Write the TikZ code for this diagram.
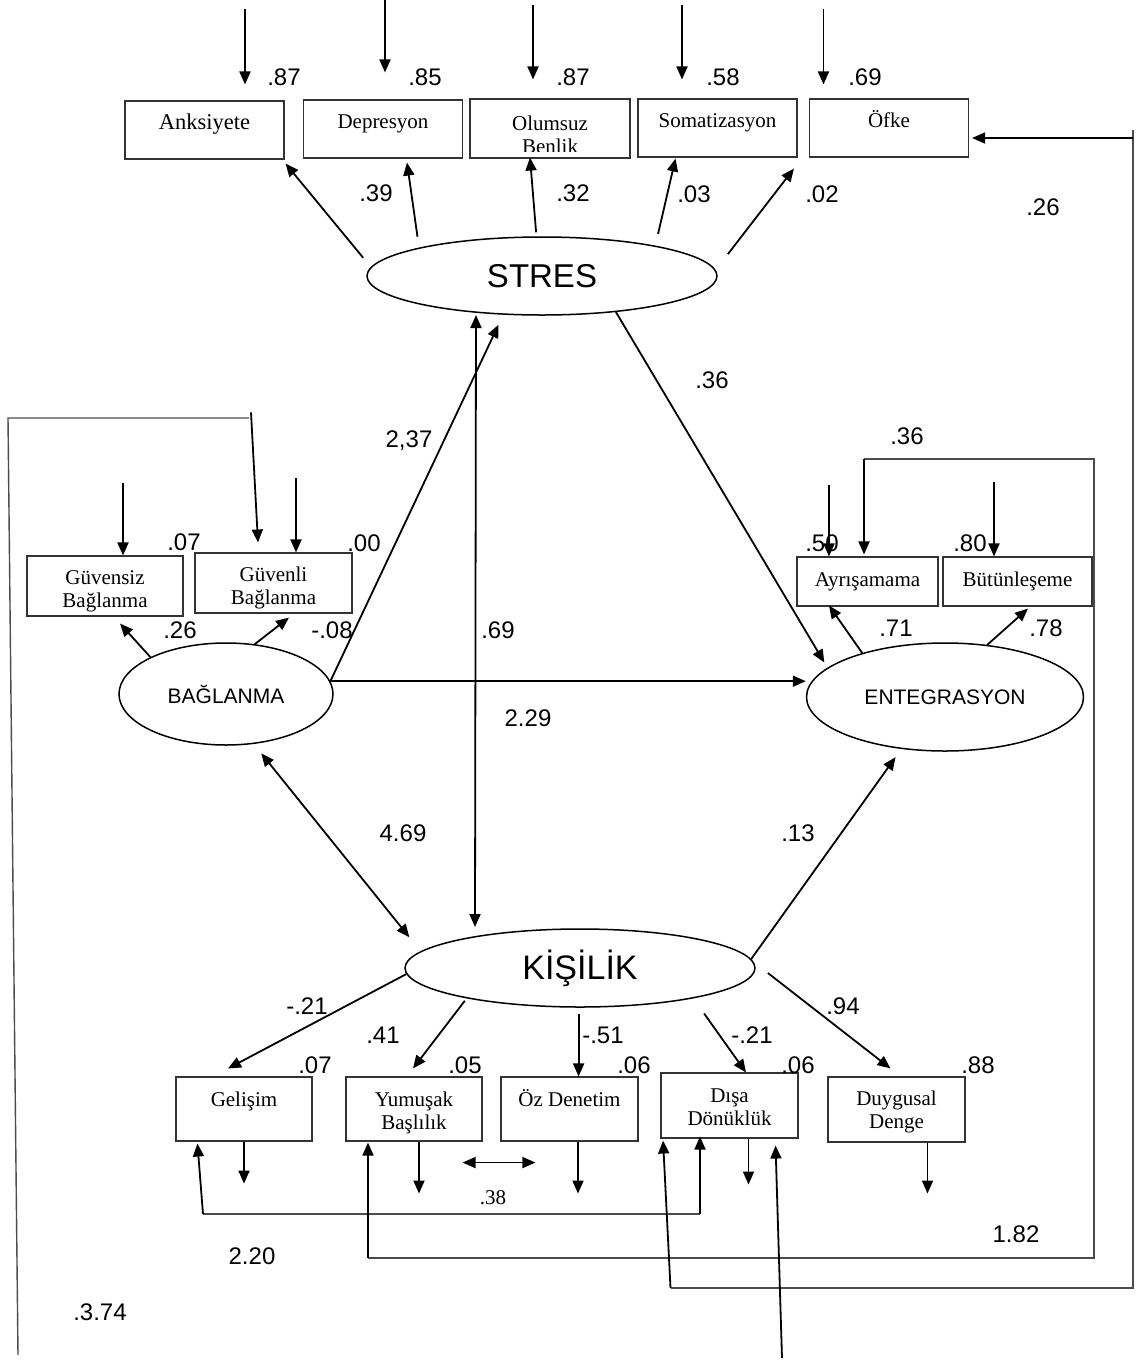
\documentclass[tikz,border=0pt]{standalone}
\usepackage{fontspec}
\setmainfont{Liberation Serif}
\newfontfamily\arialfont{Liberation Sans}
\usetikzlibrary{shapes.geometric,arrows.meta,calc}

\begin{document}
\begin{tikzpicture}[x=1pt, y=-1pt,
    latent/.style={ellipse, draw, line width=1.5pt, inner sep=0pt},
    obsbox/.style={rectangle, draw=black!80, line width=1.1pt, inner sep=0pt},
    boxtxt/.style={inner sep=0pt, font=\fontsize{21}{23}\selectfont, text height=15pt, text depth=5pt},
    boxtxtii/.style={inner sep=0pt, font=\fontsize{21}{23}\selectfont, align=center},
    coef/.style={inner sep=0pt, font=\arialfont\fontsize{24}{28}\selectfont},
    arr/.style={-{Triangle[length=13pt,width=11pt]}, line width=1.8pt},
    dblarr/.style={{Triangle[length=13pt,width=11pt]}-{Triangle[length=13pt,width=11pt]}, line width=1.8pt},
    route/.style={line width=1.4pt, draw=black!70}]

    \useasboundingbox (0,0) rectangle (1139,1361);

    % Latent variables
    \node[latent, minimum width=350pt, minimum height=78pt, font=\arialfont\fontsize{33}{36}\selectfont] (stres) at (542,276) {STRES};
    \node[latent, minimum width=214pt, minimum height=102pt, font=\arialfont\fontsize{21}{24}\selectfont] (bag) at (226,694) {BAĞLANMA};
    \node[latent, minimum width=277pt, minimum height=108pt, font=\arialfont\fontsize{21}{24}\selectfont] (ent) at (945,697) {ENTEGRASYON};
    \node[latent, minimum width=350pt, minimum height=78pt, font=\arialfont\fontsize{34}{38}\selectfont] (kis) at (580,968) {KİŞİLİK};

    % Indicators of STRES
    \node[obsbox, minimum width=159pt, minimum height=58pt,
          label={[boxtxt, font=\fontsize{22.5}{24}\selectfont, yshift=5.5pt]center:Anksiyete}] (anks) at (204.5,130) {};
    \foreach \nm/\cx/\cy/\txt in {depr/383/129/Depresyon, soma/717.5/128/Somatizasyon, ofke/889/128/Öfke}
        \node[obsbox, minimum width=159pt, minimum height=58pt,
              label={[boxtxt, yshift=5.5pt]center:\txt}] (\nm) at (\cx,\cy) {};
    \node[obsbox, minimum width=160pt, minimum height=59pt] (olum) at (550,128.5) {};
    \begin{scope}
        \clip (olum.north west) rectangle ($(olum.south east)+(0,-7)$);
        \node[boxtxtii] (olumtxt) at ($(olum.center)+(0,6)$) {Olumsuz\\Benlik};
    \end{scope}

    % Indicators of BAGLANMA and ENTEGRASYON
    \node[obsbox, minimum width=156pt, minimum height=60pt,
          label={[boxtxtii, yshift=-5pt]center:Güvensiz\\Bağlanma}] (gvs) at (105,586) {};
    \node[obsbox, minimum width=157pt, minimum height=60pt,
          label={[boxtxtii, yshift=-5pt]center:Güvenli\\Bağlanma}] (gvl) at (273.5,583) {};
    \node[obsbox, minimum width=141pt, minimum height=49pt,
          label={[boxtxt, yshift=0.5pt]center:Ayrışamama}] (ayr) at (867.5,581.5) {};
    \node[obsbox, minimum width=149pt, minimum height=49pt,
          label={[boxtxt, yshift=0.5pt]center:Bütünleşeme}] (but) at (1017.5,581.5) {};

    % Indicators of KISILIK
    \node[obsbox, minimum width=136pt, minimum height=64pt,
          label={[boxtxt, yshift=8pt]center:Gelişim}] (gel) at (244,1109) {};
    \node[obsbox, minimum width=136pt, minimum height=64pt,
          label={[boxtxtii, yshift=-4pt]center:Yumuşak\\Başlılık}] (yum) at (414,1109) {};
    \node[obsbox, minimum width=137pt, minimum height=64pt,
          label={[boxtxt, yshift=8pt]center:Öz Denetim}] (ozd) at (569.5,1109) {};
    \node[obsbox, minimum width=137pt, minimum height=65pt,
          label={[boxtxtii, yshift=-2pt]center:Dışa\\Dönüklük}] (dis) at (729.5,1105.5) {};
    \node[obsbox, minimum width=137pt, minimum height=65pt,
          label={[boxtxtii, yshift=-2.5pt]center:Duygusal\\Denge}] (duy) at (896.5,1109.5) {};

    % Error terms
    \foreach \nm/\dx/\ya/\yb in {anks/40.5/91/16, depr/2/100/27, olum/-17/93/19, soma/-35.5/93/19, ofke/-65.5/89/14,
                                 gvs/18/72/0, gvl/22.5/74/0, ayr/-38.5/71/0, but/-23.5/74/0}
        \draw[arr] ($(\nm.north)+(\dx,-\ya)$) -- ($(\nm.north)+(\dx,-\yb)$);
    \foreach \nm/\dx/\len in {gel/0/42, yum/5/52, ozd/8.5/52, dis/19/46, duy/31/51}
        \draw[arr] ($(\nm.south)+(\dx,0)$) -- ($(\nm.south)+(\dx,\len)$);

    % STRES loadings
    \draw[arr, shorten <=12pt] (stres.177.8) -- ($(anks.south east)+(1,4)$);
    \draw[arr, shorten <=11pt] (stres.167.5) -- ($(depr.south)+(24,4)$);
    \draw[arr, shorten <=4pt] (stres.98.7) -- ($(olum.south)+(-20,-1)$);
    \draw[arr, shorten <=12pt] (stres.15.9) -- ($(soma.south)+(-42,1)$);
    \draw[arr, shorten <=20pt] (stres.2.7) -- ($(ofke.south west)+(-15,11)$);

    % BAGLANMA and ENTEGRASYON loadings
    \draw[arr] (bag.154.2) -- ($(gvs.south)+(15,7)$);
    \draw[arr] (bag.60.75) -- ($(gvl.south)+(15.5,4)$);
    \draw[arr] (ent.152.3) -- ($(ayr.south)+(-38.5,-1)$);
    \draw[arr] (ent.51) -- ($(but.south)+(10.5,2)$);

    % KISILIK loadings
    \draw[arr] (kis.182) -- ($(gel.north)+(-16,-8)$);
    \draw[arr, shorten <=3pt] (kis.195.2) -- ($(yum.north)+(-1,-8)$);
    \draw[arr, shorten <=6pt] (kis.268) -- (kis.268 |- ozd.north);
    \draw[arr, shorten <=18.5pt] (kis.345.55) -- ($(dis.north)+(16.5,0)$);
    \draw[arr, shorten <=18pt] (kis.2) -- ($(duy.north)+(-6,-8)$);

    % Structural paths
    \draw[arr, shorten >=11pt] (bag.7) -- (stres.225.6);
    \draw[arr] (bag.7) -- (bag.7 -| ent.west);
    \draw[arr, shorten >=6pt] (stres.334.9) -- (ent.166.2);
    \draw[arr, shorten >=10pt] (kis.3.3) -- (ent.230.5);
    \draw[dblarr] ($(stres.center)+(-66,39)$) -- ($(kis.center)+(-105,-41)$);
    \draw[dblarr, shorten <=12pt, shorten >=18pt] (bag.299) -- (kis.174.5);
    \draw[dblarr] ($(yum.south east)+(-20,21)$) -- ($(ozd.south west)+(35,21)$);

    % Correlated errors
    \coordinate (cA) at (18,1355);
    \coordinate (cB) at (8,418);
    \coordinate (cC) at (249,418);
    \draw[route] (cA) -- (cB) -- (cC);
    \draw[arr] ($(gvl.north)+(-22.5,-140)$) -- ($(gvl.north)+(-15.5,-10)$);

    \coordinate (cD) at (203,1214);
    \coordinate (cE) at (700,1214);
    \draw[route] (cD) -- (cE);
    \draw[arr] (cD) -- ($(gel.south west)+(22,2)$);
    \draw[arr] (cE) -- ($(dis.south)+(-29.5,-2)$);

    \coordinate (cF) at (368,1258);
    \coordinate (cG) at (1094,1258);
    \coordinate (cH) at (1094,459);
    \coordinate (cI) at (864,459);
    \draw[route] (cF) -- (cG) -- (cH) -- (cI);
    \draw[arr] (cF) -- ($(yum.south)+(-46,1)$);
    \draw[arr] (cI) -- ($(ayr.north)+(-3.5,-2)$);

    \coordinate (cJ) at (670.5,1288);
    \coordinate (cK) at (1133,1288);
    \coordinate (cL) at (1133,138);
    \draw[route] (cJ) -- (cK) -- (cL) -- ++(0,-8);
    \draw[arr] (cJ) -- ($(dis.south west)+(2.6,2)$);
    \draw[arr] (cL) -- ($(ofke.east)+(3,10)$);

    \coordinate (cM) at (782,1358);
    \draw[arr] (cM) -- ($(dis.south east)+(-23,7)$);

    % Coefficients
    \foreach \x/\y/\val [count=\i] in {284/77/.87, 425/77/.85, 573/77/.87, 723/77/.58, 865/77/.69,
            376/193/.39, 573/193/.32, 694/194/.03, 822/194/.02, 1043/207/.26,
            712/380/.36, 409/441/{2,37}, 907/436/.36,
            184/542/.07, 364/543/.00, 822/543/.50, 970/543/.80,
            180/630/.26, 332/630/-.08, 498/630/.69, 896/628/.71, 1046/628/.78,
            528/718/2.29, 403/833/4.69, 798/833/.13, 307/1006/-.21, 843/1006/.94,
            383/1035/.41, 603/1035/-.51, 752/1035/-.21,
            315/1065/.07, 465/1065/.05, 634/1065/.06, 798/1065/.06, 978/1065/.88,
            252/1256/2.20, 1016/1234/1.82, 100/1312/.3.74}
        \node[coef] (coef\i) at (\x,\y) {\val};
    \node[inner sep=0pt, font=\fontsize{21}{23}\selectfont] (coefyo) at (493,1198) {.38};

\end{tikzpicture}
\end{document}
